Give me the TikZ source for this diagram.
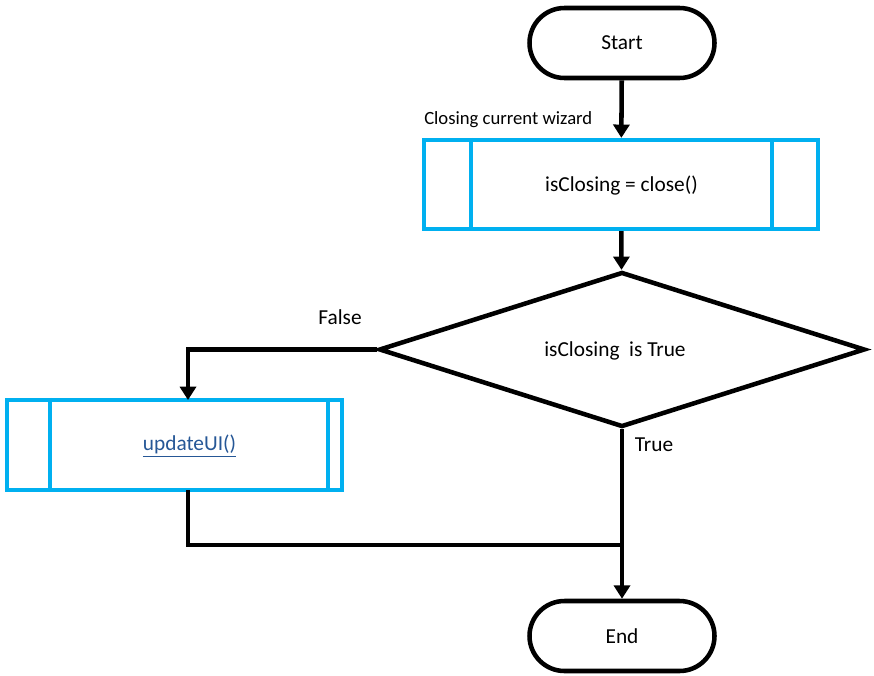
\documentclass[tikz,border=0pt]{standalone}
\usepackage{fontspec}
\setmainfont{Carlito}
\usetikzlibrary{shapes.geometric,shapes.misc,arrows.meta,calc}
\definecolor{procblue}{HTML}{00B0F0}
\definecolor{linkblue}{RGB}{38,87,150}
\begin{document}
\begin{tikzpicture}[x=0.75pt,y=-0.75pt,
  every node/.style={font=\fontsize{16}{19}\selectfont},
  term/.style={rounded rectangle, draw=black, line width=3.4pt, minimum width=185*0.75pt, minimum height=70*0.75pt, inner sep=0pt},
  proc/.style={rectangle, draw=procblue, line width=3.2pt, inner sep=0pt},
  decis/.style={diamond, draw=black, line width=3.4pt, minimum width=486*0.75pt, minimum height=155*0.75pt, inner sep=0pt},
  conn/.style={draw=black, line width=3.4pt},
  arr/.style={conn, -{Triangle[width=12pt,length=10pt]}},
  lbl/.style={inner sep=0pt}
]
\useasboundingbox (0,0) rectangle (874,675);

\node[term] (start) at (622,43) {Start};
\node[proc, minimum width=394*0.75pt, minimum height=89*0.75pt] (p1) at (621,184.5) {};
\node[lbl] (p1t) at (621.5,186) {isClosing = close()};
\draw[procblue, line width=3.2pt] ($(p1.north west)+(49,0)$) -- ($(p1.south west)+(49,0)$);
\draw[procblue, line width=3.2pt] ($(p1.north east)+(-48,0)$) -- ($(p1.south east)+(-48,0)$);
\node[lbl, anchor=west, font=\fontsize{14}{16}\selectfont] (wiz) at (424,120) {Closing current wizard};

\node[decis] (dec) at (622,349.5) {};
\node[lbl] (dect) at (615,351) {isClosing\ \ is True};

\node[proc, minimum width=335*0.75pt, minimum height=90*0.75pt] (p2) at (174.5,445) {};
\draw[procblue, line width=3.2pt] ($(p2.north west)+(45,0)$) -- ($(p2.south west)+(45,0)$);
\draw[procblue, line width=3.2pt] ($(p2.north east)+(-16,0)$) -- ($(p2.south east)+(-16,0)$);
\node[lbl, text=linkblue] (p2t) at (189.5,446) {\underline{updateUI()}};

\node[term] (end) at (622,636) {End};

\node[lbl] (flbl) at (340,317) {False};
\node[lbl] (tlbl) at (654,445) {True};

\coordinate (p2in) at (188,400);
\coordinate (p2out) at (188,490);
\coordinate (join) at (622,545);

\draw[arr] (start) -- (p1);
\draw[arr] (p1) -- (dec);
\draw[arr] (dec.west) -| (p2in);
\draw[conn] (p2out) |- (join);
\draw[arr] (dec.south) -- (end.north);
\end{tikzpicture}
\end{document}
